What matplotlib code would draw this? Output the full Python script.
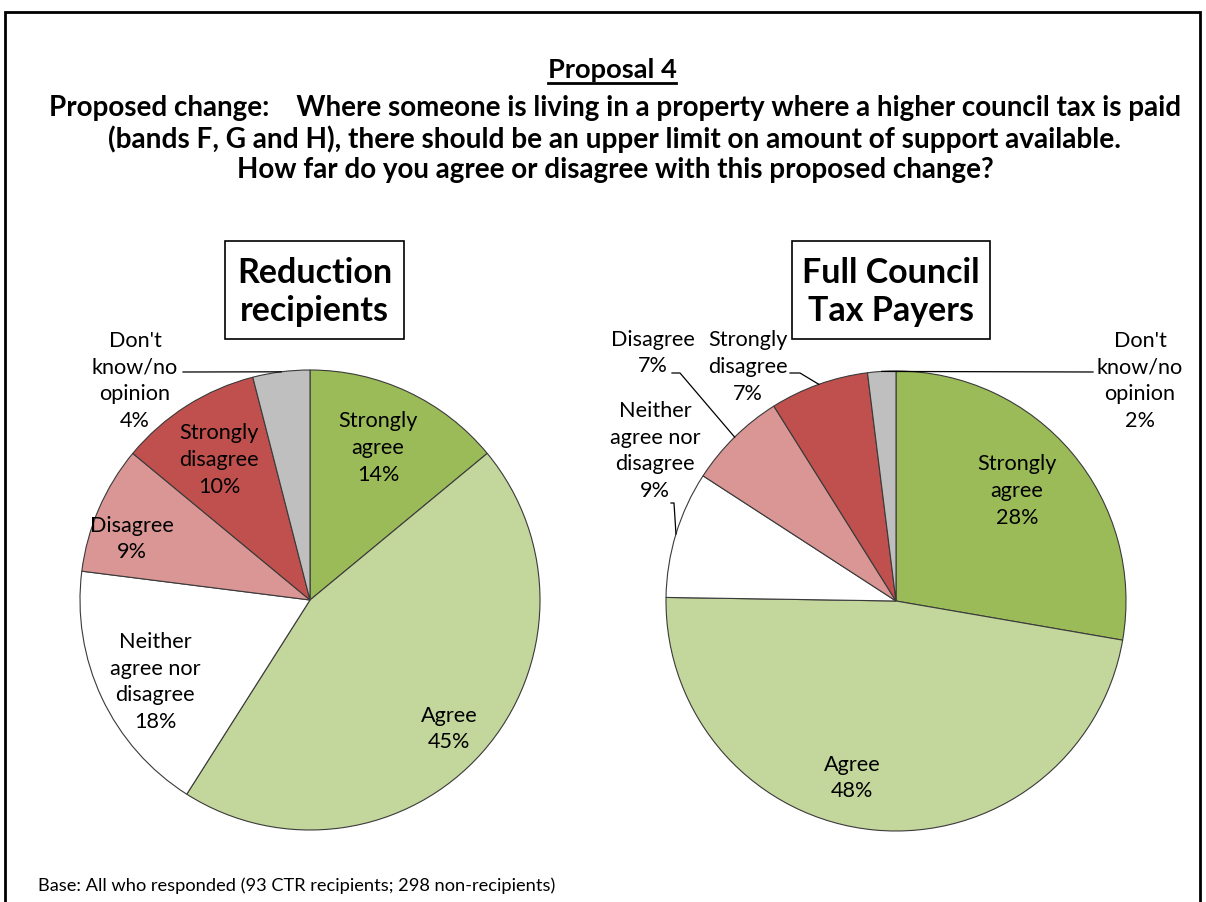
import matplotlib
matplotlib.use("Agg")
import matplotlib.pyplot as plt
import numpy as np
from matplotlib.patches import Rectangle
from matplotlib.lines import Line2D

W, H, DPI = 1206, 902, 100
FONT = "Lato"

# ---- data -------------------------------------------------------------
categories = ["Strongly agree", "Agree", "Neither agree nor disagree",
              "Disagree", "Strongly disagree", "Don't know/no opinion"]
wrapped_names = ["Strongly\nagree", "Agree", "Neither\nagree nor\ndisagree",
                 "Disagree", "Strongly\ndisagree", "Don't\nknow/no\nopinion"]
recipients_pct = [14, 45, 18, 9, 10, 4]
payers_pct = [28, 48, 9, 7, 7, 2]
slice_colors = ["#9BBB59", "#C3D69B", "#FFFFFF", "#D99694", "#C0504D", "#BFBFBF"]

heading = "Proposal 4"
question_lines = [
    "Proposed change:    Where someone is living in a property where a higher council tax is paid",
    "(bands F, G and H), there should be an upper limit on amount of support available.",
    "How far do you agree or disagree with this proposed change?",
]
group_titles = ["Reduction\nrecipients", "Full Council\nTax Payers"]
footnote = "Base: All who responded (93 CTR recipients; 298 non-recipients)"

# ---- layout (pixels from top-left) -----------------------------------
R = 230
centers = [(310, 600), (896, 601)]
title_boxes = [(225, 241, 179, 98), (792, 241, 198, 98)]
# label centres in pixels, one per slice
label_pos = [
    [(378, 448), (449, 729), (155, 682), (132, 539), (219, 460), (135, 381)],
    [(1017, 491), (852, 778), (655, 451), (653, 353), (748, 367), (1140, 381)],
]
# leader lines: slice index -> list of pixel points before the slice edge
leaders = [
    {5: [(183, 372)]},
    {2: [(671, 503), (674, 503)], 3: [(672, 373), (680, 373)],
     4: [(790, 373), (800, 373)], 5: [(1093, 372)]},
]

fig = plt.figure(figsize=(W / DPI, H / DPI), dpi=DPI)
fig.patch.set_facecolor("white")


def fp(x, y):
    return x / W, 1 - y / H


renderer = fig.canvas.get_renderer()


def fit_text(x, y, s, width_px, size0=16, **kw):
    t = fig.text(*fp(x, y), s, fontsize=size0, family=FONT, **kw)
    w = t.get_window_extent(renderer).width
    t.set_fontsize(size0 * width_px / w)
    return t


# outer frame
fig.patches.append(Rectangle(fp(5, 960), (1200 - 5) / W, (960 - 12) / H,
                             transform=fig.transFigure, fill=False,
                             edgecolor="black", linewidth=2))

# heading, underlined
t = fit_text(612, 70, heading, 129, ha="center", va="center", fontweight="bold")
bb = t.get_window_extent(renderer)
fig.lines.append(Line2D([bb.x0 / W, bb.x1 / W], [1 - 83 / H] * 2,
                        transform=fig.transFigure, color="black", linewidth=2))

q_widths = [1136, 1017, 760]
q_y = [108, 139, 170]
for s, w, y in zip(question_lines, q_widths, q_y):
    fit_text(615, y, s, w, ha="center", va="center", fontweight="bold")

fit_text(38, 886, footnote, 519, ha="left", va="center")

label_size = 15.6

for k, values in enumerate([recipients_pct, payers_pct]):
    cx, cy = centers[k]
    ax = fig.add_axes([(cx - R) / W, (H - cy - R) / H, 2 * R / W, 2 * R / H])
    wedges, _ = ax.pie(values, colors=slice_colors, startangle=90,
                       counterclock=False, radius=1,
                       wedgeprops=dict(edgecolor="#3a3a3a", linewidth=0.8))
    ax.set_xlim(-1, 1)
    ax.set_ylim(-1, 1)
    ax.set_aspect("equal")
    ax.axis("off")

    for i, (name, v) in enumerate(zip(wrapped_names, values)):
        lx, ly = label_pos[k][i]
        ax.text((lx - cx) / R, (cy - ly) / R, f"{name}\n{v}%",
                ha="center", va="center", fontsize=label_size, family=FONT,
                linespacing=1.42, clip_on=False)

    for i, pts in leaders[k].items():
        w = wedges[i]
        mid = np.deg2rad((w.theta1 + w.theta2) / 2)
        xs = [(px - cx) / R for px, py in pts] + [np.cos(mid)]
        ys = [(cy - py) / R for px, py in pts] + [np.sin(mid)]
        ax.plot(xs, ys, color="black", linewidth=0.9, clip_on=False)

    bx, by, bw, bh = title_boxes[k]
    fig.patches.append(Rectangle(fp(bx, by + bh), bw / W, bh / H,
                                 transform=fig.transFigure, fill=False,
                                 edgecolor="black", linewidth=1.2))
    fig.text(*fp(bx + bw / 2, by + bh / 2 + 2), group_titles[k],
             ha="center", va="center", fontsize=24.5, fontweight="bold",
             family=FONT, linespacing=1.22)

fig.savefig("out.png", dpi=DPI, facecolor="white")
